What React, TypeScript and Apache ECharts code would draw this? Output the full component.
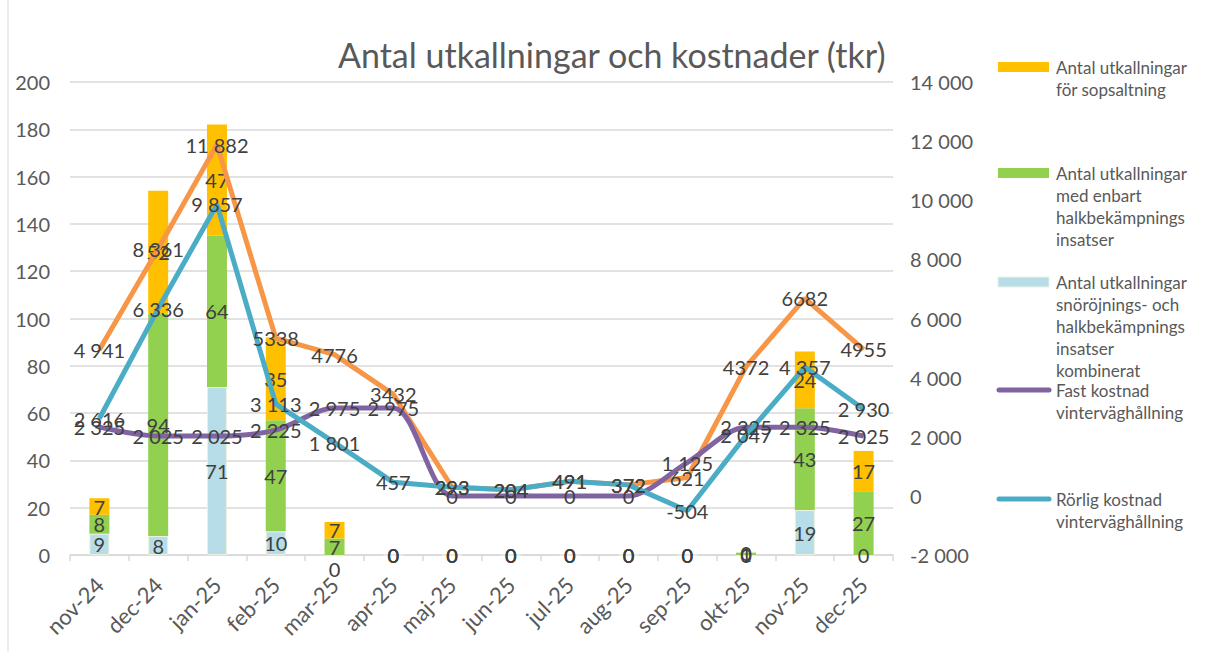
import React, { useEffect, useRef } from "react";
import * as echarts from "echarts";

const months = ["nov-24", "dec-24", "jan-25", "feb-25", "mar-25", "apr-25", "maj-25", "jun-25", "jul-25", "aug-25", "sep-25", "okt-25", "nov-25", "dec-25"];
const combinedCalls = [9, 8, 71, 10, 0, 0, 0, 0, 0, 0, 0, 0, 19, 0];
const halkOnlyCalls = [8, 94, 64, 47, 7, 0, 0, 0, 0, 0, 0, 1, 43, 27];
const sopsaltCalls = [7, 52, 47, 35, 7, 0, 0, 0, 0, 0, 0, 0, 24, 17];
const fastCost = [2325, 2025, 2025, 2225, 2975, 2975, 0, 0, 0, 0, 1125, 2325, 2325, 2025];
const rorligCost = [2616, 6336, 9857, 3113, 1801, 457, 293, 204, 491, 372, -504, 2047, 4357, 2930];
const totalCost = [4941, 8361, 11882, 5338, 4776, 3432, 293, 204, 491, 372, 621, 4372, 6682, 4955];

const legendNames = [
  "Antal utkallningar\nför sopsaltning",
  "Antal utkallningar\nmed enbart\nhalkbekämpnings\ninsatser",
  "Antal utkallningar\nsnöröjnings- och\nhalkbekämpnings\ninsatser\nkombinerat",
  "Fast kostnad\nvinterväghållning",
  "Rörlig kostnad\nvinterväghållning",
];

const FONT = "Lato";
const AXIS_C = "#595959";
const LABEL_C = "#404040";
const C_YEL = "#FFC000";
const C_GRN = "#92D050";
const C_LBL = "#B7DEE8";
const C_ORG = "#F79646";
const C_PUR = "#8064A2";
const C_BLU = "#4BACC6";

const fmt = (v: number) => String(v).replace(/\B(?=(\d{3})+(?!\d))/g, " ");

export default function App() {
  const ref = useRef<HTMLDivElement>(null);
  useEffect(() => {
    if (!ref.current) return;
    const chart = echarts.init(ref.current, undefined, { renderer: "svg" });
    const lbl = { show: true, position: "inside", color: LABEL_C, fontFamily: FONT, fontSize: 20 };
    const lineLabel = (f: (p: any) => string) => ({
      show: true,
      position: "inside",
      color: LABEL_C,
      fontFamily: FONT,
      fontSize: 20,
      formatter: f,
    });
    const legendY = [67, 173, 282, 390, 499];
    const legendColors = [C_YEL, C_GRN, C_LBL, C_PUR, C_BLU];
    const graphics: any[] = [
      { type: "line", shape: { x1: 8, y1: 0, x2: 8, y2: 652 }, style: { stroke: "#d9d9d9", lineWidth: 1 } },
    ];
    legendNames.forEach((n, i) => {
      if (i < 3) {
        graphics.push({
          type: "rect",
          shape: { x: 998, y: legendY[i] - 5, width: 51, height: 10 },
          style: { fill: legendColors[i], stroke: i === 2 ? "#ebf1de" : undefined, lineWidth: 1 },
        });
      } else {
        graphics.push({
          type: "line",
          shape: { x1: 999, y1: legendY[i], x2: 1049, y2: legendY[i] },
          style: { stroke: legendColors[i], lineWidth: 5, lineCap: "round" },
        });
      }
      graphics.push({
        type: "text",
        x: 1056,
        y: legendY[i] - 11,
        style: { text: n, fill: AXIS_C, fontFamily: FONT, fontSize: 17, lineHeight: 22, textVerticalAlign: "top" },
      });
    });

    const lineCommon = {
      type: "line",
      yAxisIndex: 1,
      showSymbol: true,
      symbol: "circle",
      symbolSize: 1,
      z: 3,
    };

    const option: any = {
      animation: false,
      backgroundColor: "#fff",
      title: {
        text: "Antal utkallningar och kostnader (tkr)",
        left: 333,
        top: 32,
        textStyle: { fontFamily: FONT, fontSize: 34, fontWeight: "normal", color: AXIS_C },
      },
      grid: { left: 70, right: 317, top: 82, bottom: 97, containLabel: false },
      xAxis: {
        type: "category",
        data: months,
        axisLine: { lineStyle: { color: "#d9d9d9", width: 1.5 } },
        axisTick: { show: true, interval: 0, length: 6, lineStyle: { color: "#d9d9d9", width: 1.5 } },
        axisLabel: { rotate: 45, interval: 0, color: AXIS_C, fontFamily: FONT, fontSize: 22, margin: 26 },
      },
      yAxis: [
        {
          type: "value",
          min: 0,
          max: 200,
          interval: 20,
          axisLine: { show: false },
          axisTick: { show: false },
          splitLine: { lineStyle: { color: "#d9d9d9", width: 1.5 } },
          axisLabel: { color: AXIS_C, fontFamily: FONT, fontSize: 20, margin: 20 },
        },
        {
          type: "value",
          min: -2000,
          max: 14000,
          interval: 2000,
          alignTicks: false,
          axisLine: { show: false },
          axisTick: { show: false },
          splitLine: { show: false },
          axisLabel: { color: AXIS_C, fontFamily: FONT, fontSize: 20, margin: 17, formatter: (v: number) => fmt(v) },
        },
      ],
      series: [
        {
          name: legendNames[2],
          type: "bar",
          stack: "calls",
          barWidth: 20,
          data: combinedCalls.map((v, i) => (i === 4 ? { value: v, label: { offset: [0, 14] } } : v)),
          itemStyle: { color: C_LBL, borderColor: "#ebf1de", borderWidth: 1 },
          label: lbl,
        },
        {
          name: legendNames[1],
          type: "bar",
          stack: "calls",
          barWidth: 20,
          data: halkOnlyCalls,
          itemStyle: { color: C_GRN },
          label: lbl,
        },
        {
          name: legendNames[0],
          type: "bar",
          stack: "calls",
          barWidth: 20,
          data: sopsaltCalls,
          itemStyle: { color: C_YEL },
          label: lbl,
        },
        {
          ...lineCommon,
          name: "Total kostnad",
          data: totalCost,
          lineStyle: { color: C_ORG, width: 5 },
          itemStyle: { color: C_ORG },
          label: lineLabel((p: any) => (p.dataIndex < 3 ? fmt(p.value) : String(p.value))),
        },
        {
          ...lineCommon,
          name: legendNames[3],
          data: fastCost,
          smooth: 0.3,
          lineStyle: { color: C_PUR, width: 5 },
          itemStyle: { color: C_PUR },
          label: lineLabel((p: any) => fmt(p.value)),
        },
        {
          ...lineCommon,
          name: legendNames[4],
          data: rorligCost,
          lineStyle: { color: C_BLU, width: 5 },
          itemStyle: { color: C_BLU },
          label: lineLabel((p: any) => fmt(p.value)),
        },
      ],
      graphic: graphics,
    };
    chart.setOption(option);
    return () => chart.dispose();
  }, []);
  return <div ref={ref} style={{ position: "fixed", left: 0, top: 0, width: 1210, height: 652 }} />;
}
